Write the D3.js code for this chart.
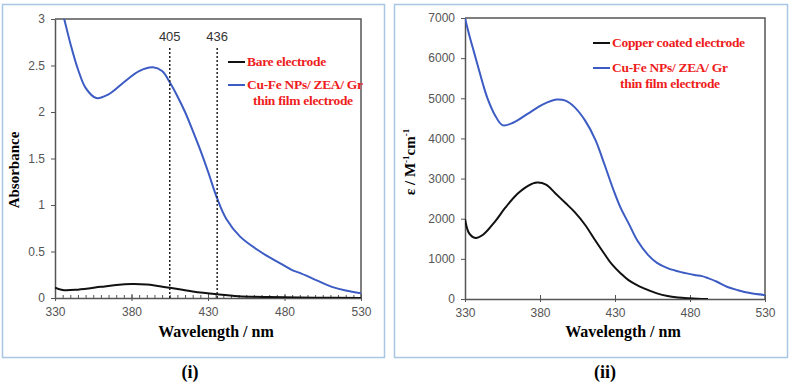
<!DOCTYPE html>
<html>
<head>
<meta charset="utf-8">
<script src="https://cdn.jsdelivr.net/npm/d3@7"></script>
<style>
  body { margin: 0; background: #fff; }
  svg text { font-family: Arial, "Liberation Sans", sans-serif; }
  .serif { font-family: "Times New Roman", "Liberation Serif", serif !important; font-weight: bold; }
</style>
</head>
<body>
<div id="chart"></div>
<script>
// Panel (i): absorbance vs wavelength
const wlBlueI  = [330, 333, 336, 340, 345, 350, 357, 365, 375, 385, 394, 400, 405, 410, 415, 420, 425, 430, 436, 442, 451, 464, 479, 485, 490, 501, 511, 520, 530];
const absBlueI = [3.4, 3.18, 3.0, 2.74, 2.46, 2.26, 2.15, 2.19, 2.32, 2.44, 2.48, 2.44, 2.32, 2.17, 2.0, 1.8, 1.59, 1.36, 1.07, 0.85, 0.66, 0.5, 0.355, 0.3, 0.27, 0.19, 0.12, 0.08, 0.05];
const wlBlackI  = [330, 335, 345, 360, 370, 380, 390, 397, 405, 420, 436, 450, 470, 500, 530];
const absBlackI = [0.11, 0.085, 0.09, 0.12, 0.14, 0.15, 0.145, 0.13, 0.11, 0.07, 0.04, 0.02, 0.01, 0.004, 0.0];
const yTicksI = [0, 0.5, 1, 1.5, 2, 2.5, 3];
const markerLines = [405, 436];

// Panel (ii): molar absorptivity vs wavelength
const wlBlueII  = [330, 333, 336, 339, 342, 345, 350, 355, 362, 372, 382, 391, 397, 403, 410, 417, 423, 429, 434, 439, 445, 452, 458, 465, 474, 483, 488, 492, 498, 505, 512, 520, 530];
const epsBlueII = [7000, 6550, 6150, 5750, 5350, 5000, 4580, 4330, 4390, 4620, 4850, 4970, 4940, 4780, 4450, 3960, 3350, 2715, 2250, 1890, 1450, 1100, 900, 770, 670, 600, 570, 520, 430, 300, 220, 150, 100];
const wlBlackII  = [330, 333, 337, 342, 350, 357, 365, 372, 378, 384, 390, 397, 403, 410, 417, 423, 428, 434, 439, 445, 452, 458, 465, 472, 479, 485, 492];
const epsBlackII = [1990, 1620, 1520, 1600, 1930, 2280, 2620, 2820, 2900, 2850, 2640, 2390, 2170, 1850, 1450, 1120, 860, 630, 470, 340, 225, 140, 75, 40, 20, 8, 0];
const yTicksII = [0, 1000, 2000, 3000, 4000, 5000, 6000, 7000];

const xTicks = [330, 380, 430, 480, 530];
const BLUE = '#3c5cc4';
const RED = '#ee1c1c';

const svg = d3.select('#chart').append('svg')
    .attr('width', 790)
    .attr('height', 385);

// Light blue frames round each panel
svg.append('rect').attr('x', 2.5).attr('y', 4.5).attr('width', 382).attr('height', 353)
    .attr('fill', 'none').attr('stroke', '#a9c6e4').attr('stroke-width', 1.5);
svg.append('rect').attr('x', 394.5).attr('y', 4.5).attr('width', 393).attr('height', 353)
    .attr('fill', 'none').attr('stroke', '#a9c6e4').attr('stroke-width', 1.5);

function drawPanel(opt) {
    const g = svg.append('g');
    const x = d3.scaleLinear().domain([330, 530]).range([opt.left, opt.right]);
    const y = d3.scaleLinear().domain([0, opt.yMax]).range([opt.bottom, opt.top]);

    const clipId = 'clip' + opt.id;
    g.append('clipPath').attr('id', clipId)
        .append('rect').attr('x', opt.left).attr('y', opt.top)
        .attr('width', opt.right - opt.left).attr('height', opt.bottom - opt.top);

    // minor ticks (inside)
    if (opt.minor) {
        g.append('g')
            .attr('transform', `translate(0,${opt.bottom})`)
            .call(d3.axisTop(x).tickValues(d3.range(335, 530, 5)).tickSize(3).tickFormat(''))
            .call(a => a.select('.domain').remove())
            .selectAll('line').attr('stroke', '#555');
    }

    // x axis, ticks crossing the line
    const xa = g.append('g')
        .attr('transform', `translate(0,${opt.bottom})`)
        .call(d3.axisBottom(x).tickValues(xTicks).tickSize(3).tickPadding(6).tickSizeOuter(0).tickFormat(d => d));
    xa.selectAll('.tick line').attr('y1', -4).attr('stroke', '#555');
    xa.select('.domain').attr('stroke', '#555').attr('stroke-width', 1.5);
    xa.selectAll('text').attr('fill', '#555').style('font-size', '12px');

    // y axis
    const ya = g.append('g')
        .attr('transform', `translate(${opt.left},0)`)
        .call(d3.axisLeft(y).tickValues(opt.yTicks).tickSize(4).tickPadding(6).tickSizeOuter(0).tickFormat(d => d));
    ya.select('.domain').attr('stroke', '#555').attr('stroke-width', 1.5);
    ya.selectAll('.tick line').attr('stroke', '#555');
    ya.selectAll('text').attr('fill', '#555').style('font-size', '12px');

    // top and right of plot box
    g.append('path')
        .attr('d', `M${opt.left},${opt.top}H${opt.right}V${opt.bottom}`)
        .attr('fill', 'none').attr('stroke', '#555').attr('stroke-width', 1.5);

    const line = d3.line()
        .x(d => x(d[0])).y(d => y(d[1]))
        .curve(d3.curveCatmullRom.alpha(0.5));

    opt.series.forEach(s => {
        g.append('path')
            .datum(d3.zip(s.wl, s.val))
            .attr('clip-path', `url(#${clipId})`)
            .attr('fill', 'none')
            .attr('stroke', s.color)
            .attr('stroke-width', 2)
            .attr('d', line);
    });

    // x label
    g.append('text').attr('class', 'serif')
        .attr('x', (opt.left + opt.right) / 2 + 8).attr('y', 337)
        .attr('text-anchor', 'middle').style('font-size', '16px')
        .text('Wavelength / nm');

    // panel caption
    g.append('text').attr('class', 'serif')
        .attr('x', opt.captionX).attr('y', 378)
        .attr('text-anchor', 'middle').style('font-size', '18px')
        .text(opt.caption);

    // legend
    opt.legend.forEach((l, i) => {
        const ly = opt.legendY[i];
        g.append('line')
            .attr('x1', opt.legendX).attr('x2', opt.legendX + 17)
            .attr('y1', ly).attr('y2', ly)
            .attr('stroke', l.color).attr('stroke-width', 2);
        l.lines.forEach((t, j) => {
            g.append('text').attr('class', 'serif')
                .attr('x', j === 0 ? opt.legendX + 19 : opt.legendX + 19 + (l.indent || 0))
                .attr('y', ly + 4 + j * 16)
                .attr('fill', RED)
                .style('font-size', '13.5px')
                .style('letter-spacing', '-0.3px')
                .text(t);
        });
    });

    return { g, x, y };
}

const p1 = drawPanel({
    id: 1, left: 55, right: 361, top: 19, bottom: 298,
    yMax: 3, yTicks: yTicksI, minor: true,
    caption: '(i)', captionX: 190,
    series: [
        { wl: wlBlackI, val: absBlackI, color: '#111' },
        { wl: wlBlueI, val: absBlueI, color: BLUE }
    ],
    legendX: 228, legendY: [62, 85],
    legend: [
        { color: '#111', lines: ['Bare electrode'] },
        { color: BLUE, lines: ['Cu-Fe NPs/ ZEA/ Gr', 'thin film electrode'], indent: 6 }
    ]
});

// dotted marker lines at 405 and 436 nm
markerLines.forEach(m => {
    p1.g.append('line')
        .attr('x1', p1.x(m)).attr('x2', p1.x(m))
        .attr('y1', 48).attr('y2', 298)
        .attr('stroke', '#222').attr('stroke-width', 1.5)
        .attr('stroke-dasharray', '2,2');
    p1.g.append('text')
        .attr('x', p1.x(m)).attr('y', 41)
        .attr('text-anchor', 'middle')
        .attr('fill', '#333').style('font-size', '13px')
        .text(m);
});

// y label (i)
svg.append('text').attr('class', 'serif')
    .attr('transform', 'translate(19,170) rotate(-90)')
    .attr('text-anchor', 'middle').style('font-size', '15px')
    .text('Absorbance');

const p2 = drawPanel({
    id: 2, left: 465, right: 765, top: 18, bottom: 299,
    yMax: 7000, yTicks: yTicksII, minor: false,
    caption: '(ii)', captionX: 605,
    series: [
        { wl: wlBlackII, val: epsBlackII, color: '#111' },
        { wl: wlBlueII, val: epsBlueII, color: BLUE }
    ],
    legendX: 593, legendY: [43, 68],
    legend: [
        { color: '#111', lines: ['Copper coated electrode'] },
        { color: BLUE, lines: ['Cu-Fe NPs/ ZEA/ Gr', 'thin film electrode'], indent: 8 }
    ]
});

// y label (ii) with superscripts
const yl2 = svg.append('text').attr('class', 'serif')
    .attr('transform', 'translate(415,162) rotate(-90)')
    .attr('text-anchor', 'middle').style('font-size', '15px');
yl2.append('tspan').text('ε / M');
yl2.append('tspan').attr('dy', -6).style('font-size', '9px').text('-1');
yl2.append('tspan').attr('dy', 6).text('cm');
yl2.append('tspan').attr('dy', -6).style('font-size', '9px').text('-1');
</script>
</body>
</html>
